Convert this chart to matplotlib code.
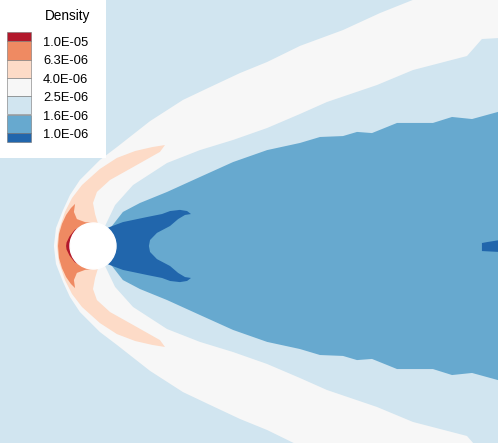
import numpy as np
import matplotlib
matplotlib.use("Agg")
import matplotlib.pyplot as plt

plt.rcParams['font.family'] = ['Liberation Sans', 'DejaVu Sans']

# contour levels and colours (low -> high)
levels = ["1.0E-06", "1.6E-06", "2.5E-06", "4.0E-06", "6.3E-06", "1.0E-05"]
colors = ["#2166ac", "#67a9cf", "#d1e5f0", "#f7f7f7", "#fddbc7", "#ef8a62", "#b2182b"]

# boundary curves, upper half (symmetric about y=0), in sphere radii
shock_x = np.array([-1.70, -1.61, -1.30, -1.00, -0.57, 0.30, 1.04, 2.48, 3.91, 5.09,
                    6.39, 7.57, 9.00, 10.87, 12.48, 13.91, 20.0])
shock_y = np.array([0.0, 0.78, 1.57, 2.22, 2.87, 3.74, 4.30, 5.43, 6.35, 6.91,
                    7.52, 8.00, 8.70, 9.39, 10.13, 10.70, 13.0])

expan_x = np.array([0.52, 0.96, 1.74, 3.22, 4.65, 6.09, 7.57, 9.00, 10.17, 12.35,
                    13.91, 16.26, 16.91, 17.61, 20.0])
expan_y = np.array([0.86, 1.78, 2.65, 3.61, 4.17, 4.61, 5.13, 5.74, 6.26, 7.00,
                    7.65, 8.26, 9.00, 9.04, 9.04])

wake_x = np.array([0.70, 1.30, 2.04, 3.22, 4.65, 6.09, 7.57, 9.00, 9.87, 10.87,
                   11.48, 12.13, 13.22, 14.78, 15.61, 16.48, 17.61, 20.0])
wake_y = np.array([0.71, 1.48, 1.87, 2.35, 3.00, 3.65, 4.17, 4.48, 4.74, 4.78,
                   4.96, 4.91, 5.35, 5.35, 5.61, 5.52, 5.83, 5.91])

core_x = np.array([0.61, 1.30, 2.35, 3.00, 3.35, 3.78, 4.09, 4.26, 4.00, 3.70,
                   3.35, 2.78, 2.48, 2.43])
core_y = np.array([0.78, 1.04, 1.26, 1.39, 1.52, 1.57, 1.52, 1.39, 1.35, 1.17,
                   0.87, 0.57, 0.26, 0.0])

tail_x = np.array([16.91, 17.13, 17.70, 17.70, 16.91])
tail_y = np.array([0.13, 0.17, 0.26, -0.26, -0.22])

band_x = np.array([-1.57, -1.48, -1.22, -0.91, -0.48, 0.30, 1.04, 1.83, 2.57, 3.13,
                   2.91, 1.74, 0.74, 0.17, 0.0, 0.09, 0.22])
band_y = np.array([0.0, 0.70, 1.48, 2.09, 2.65, 3.35, 3.83, 4.13, 4.30, 4.39,
                   4.09, 3.43, 2.87, 2.35, 1.87, 1.39, 0.96])

cap_x = np.array([-1.52, -1.48, -1.35, -1.17, -0.96, -0.78, -0.83, -0.70, -0.35, 0.0])
cap_y = np.array([0.0, 0.52, 0.96, 1.35, 1.65, 1.83, 1.48, 1.17, 1.04, 1.0])

stag_x = np.array([-1.17, -1.15, -1.02, -0.80, -0.56])
stag_y = np.array([0.0, 0.15, 0.42, 0.70, 0.83])


def mirrored(xs, ys):
    return np.r_[xs, xs[::-1]], np.r_[ys, -ys[::-1]]


fig = plt.figure(figsize=(4.98, 4.43), dpi=100)
ax = fig.add_axes([0, 0, 1, 1])
ax.set_xlim(-93 / 23, 405 / 23)
ax.set_ylim(-197 / 23, 246 / 23)
ax.set_axis_off()
ax.add_patch(plt.Rectangle((-10, -20), 40, 40, color=colors[2], zorder=0))

regions = [(shock_x, shock_y, colors[3]),
           (expan_x, expan_y, colors[2]),
           (wake_x, wake_y, colors[1]),
           (core_x, core_y, colors[0]),
           (band_x, band_y, colors[4]),
           (cap_x, cap_y, colors[5]),
           (stag_x, stag_y, colors[6])]
for i, (xs, ys, c) in enumerate(regions):
    px, py = mirrored(xs, ys)
    ax.fill(px, py, color=c, lw=0, zorder=1 + i)
ax.fill(tail_x, tail_y, color=colors[0], lw=0, zorder=5)

ax.add_patch(plt.Circle((0, 0), 1.0, color="white", zorder=20))

# legend box
lax = fig.add_axes([0, 1 - 158 / 443, 106 / 498, 158 / 443])
lax.set_xlim(0, 106)
lax.set_ylim(158, 0)
lax.set_xticks([])
lax.set_yticks([])
for s in lax.spines.values():
    s.set_visible(False)
lax.set_facecolor("white")

top, bottom = 32, 142
h = (bottom - top) / (len(colors) - 1)
heights = [h / 2] + [h] * (len(colors) - 2) + [h / 2]
starts = top + np.r_[0, np.cumsum(heights)[:-1]]
lax.bar(np.full(len(colors), 19), heights, width=24, bottom=starts,
        color=colors[::-1], edgecolor="0.45", linewidth=0.4)
for i, lab in enumerate(levels[::-1]):
    lax.text(43, top + h / 2 + i * h + 2, lab, va="center", ha="left", fontsize=9.3)
lax.text(68, 16, "Density", va="center", ha="center", fontsize=9.8)

fig.savefig("out.png", dpi=100)
